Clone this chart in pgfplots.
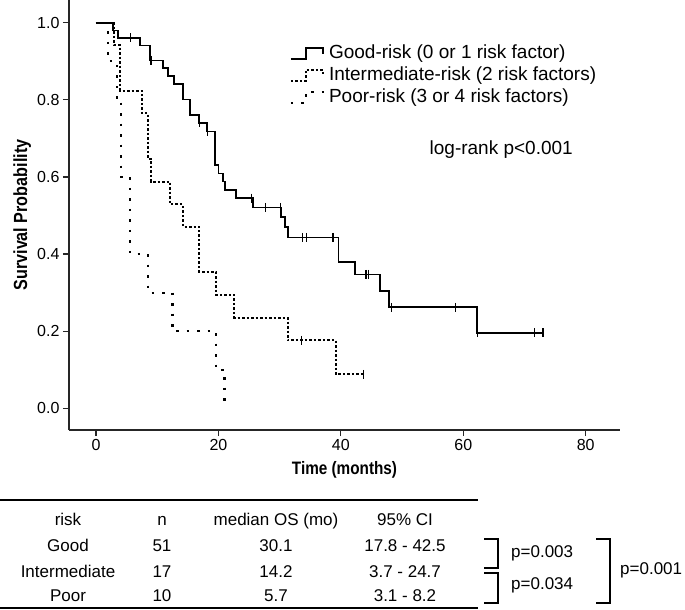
\documentclass[border=0pt]{standalone}
\usepackage{fontspec}
\setmainfont{Liberation Sans}
\newfontfamily\narrowfont[FakeStretch=0.85]{Liberation Sans}
\usepackage{pgfplots}
\usepackage{pgfplotstable}
\pgfplotsset{compat=1.18}

% Kaplan-Meier steps: time (months), survival after the event
\pgfplotstableread{
t s
0 1.000
2.8 0.980
3.6 0.961
7.2 0.941
8.8 0.902
11.0 0.882
11.7 0.862
12.7 0.841
14.2 0.801
15.4 0.761
16.8 0.740
18.1 0.718
19.5 0.631
20.0 0.609
20.7 0.588
21.1 0.566
22.9 0.545
25.7 0.521
30.2 0.497
30.9 0.471
31.4 0.443
39.6 0.380
42.3 0.347
46.4 0.305
47.8 0.262
62.2 0.196
73.1 0.196
}\good

\pgfplotstableread{
t s
5.6 0.961
9.0 0.902
16.9 0.740
18.2 0.718
25.4 0.545
27.7 0.521
30.1 0.521
33.7 0.443
34.4 0.443
38.7 0.443
44.1 0.347
44.5 0.347
48.3 0.262
58.7 0.262
62.3 0.196
71.6 0.196
73.0 0.196
}\goodcens

\pgfplotstableread{
t s
0 1.000
3.0 0.941
4.0 0.824
7.5 0.765
8.5 0.647
9.0 0.588
12.1 0.529
14.2 0.471
16.9 0.353
19.6 0.294
22.6 0.235
31.3 0.176
39.2 0.088
43.7 0.088
}\inter

\pgfplotstableread{
t s
33.6 0.176
43.7 0.088
}\intercens

\pgfplotstableread{
t s
0 1.0
2.0 0.9
3.4 0.8
4.1 0.6
5.6 0.4
8.5 0.3
12.5 0.2
19.6 0.1
21.0 0.0
}\poor

\begin{document}
\begin{tikzpicture}
\begin{axis}[
  scale only axis, width=551pt, height=430pt,
  xmin=-4.41, xmax=85.6, ymin=-0.0563, ymax=1.0589,
  axis x line=bottom, axis y line=left,
  axis line style={-, line width=1.6pt, black!85},
  tick align=outside, major tick length=6pt,
  tick style={line width=1.2pt, black!85},
  xtick={0,20,40,60,80}, ytick={0,0.2,0.4,0.6,0.8,1.0},
  yticklabel style={/pgf/number format/.cd, fixed, fixed zerofill, precision=1},
  /pgf/number format/assume math mode=true,
  ticklabel style={font=\fontsize{16}{18}\selectfont},
  xlabel={\narrowfont\bfseries Time (months)},
  xlabel style={font=\fontsize{18}{20}\selectfont, at={(axis description cs:0.5,0)}, anchor=center, yshift=-40pt},
  ylabel={\narrowfont\bfseries Survival Probability},
  ylabel style={font=\fontsize{19}{21}\selectfont, at={(axis description cs:-0.085,0.5)}, anchor=center},
  legend style={at={(rel axis cs:0.395,0.903)}, anchor=north west, draw=none, fill=none,
    font=\fontsize{19}{21}\selectfont, row sep=2pt,
    nodes={text height=14pt, text depth=4pt, inner sep=1pt},
    /tikz/every even column/.append style={column sep=0pt}},
  legend cell align=left,
  legend image code/.code={\draw[#1] (0pt,-5pt) -- (15pt,-5pt) -- (15pt,6pt) -- (32pt,6pt) -- (32pt,0pt);},
]
\addplot[const plot, line width=1.8pt, black] table[x=t, y=s] {\good};
\addlegendentry{\hspace{4pt}Good-risk (0 or 1 risk factor)}
\addplot[const plot, line width=2pt, black, dash pattern=on 2.5pt off 2pt] table[x=t, y=s] {\inter};
\addlegendentry{\hspace{4pt}Intermediate-risk (2 risk factors)}
\addplot[const plot, line width=2.2pt, black, dash pattern=on 2.5pt off 8pt] table[x=t, y=s] {\poor};
\addlegendentry{\hspace{4pt}Poor-risk (3 or 4 risk factors)}
\addplot[only marks, mark=|, mark size=4.5pt, line width=1.4pt, black, forget plot] table[x=t, y=s] {\goodcens};
\addplot[only marks, mark=|, mark size=4.5pt, line width=1.4pt, black, forget plot] table[x=t, y=s] {\intercens};
\node[font=\fontsize{19}{21}\selectfont] at (axis cs:66.2,0.67) {log-rank p<0.001};
\end{axis}

% table under the plot, in image pixels (x right, y down)
\begin{scope}[x=1pt, y=-1pt, shift={(-69pt,430pt)},
  every node/.style={font=\fontsize{17}{19}\selectfont, text height=12pt, text depth=3.5pt, inner sep=0pt}]
  \draw[line width=1.2pt] (0,500) -- (478,500);
  \draw[line width=1.2pt] (0,608) -- (478,608);
  \node at (68,521) {risk};
  \node at (162,521) {n};
  \node at (276,521) {median OS (mo)};
  \node at (405,521) {95\% CI};
  \node at (68,547) {Good};
  \node at (162,547) {51};
  \node at (276,547) {30.1};
  \node at (405,547) {17.8 - 42.5};
  \node at (68,573) {Intermediate};
  \node at (162,573) {17};
  \node at (276,573) {14.2};
  \node at (405,573) {3.7 - 24.7};
  \node at (68,597) {Poor};
  \node at (162,597) {10};
  \node at (276,597) {5.7};
  \node at (405,597) {3.1 - 8.2};
  \draw[line width=1.6pt] (484,539) -- (498,539) -- (498,568) -- (484,568);
  \draw[line width=1.6pt] (484,573) -- (498,573) -- (498,603) -- (484,603);
  \draw[line width=1.6pt] (596,539) -- (610,539) -- (610,603) -- (596,603);
  \node[anchor=west] at (511,553) {p=0.003};
  \node[anchor=west] at (511,585) {p=0.034};
  \node[anchor=west] at (620,570) {p=0.001};
  \pgfresetboundingbox
  \path[use as bounding box] (0,0) rectangle (685,610);
\end{scope}
\end{tikzpicture}
\end{document}
